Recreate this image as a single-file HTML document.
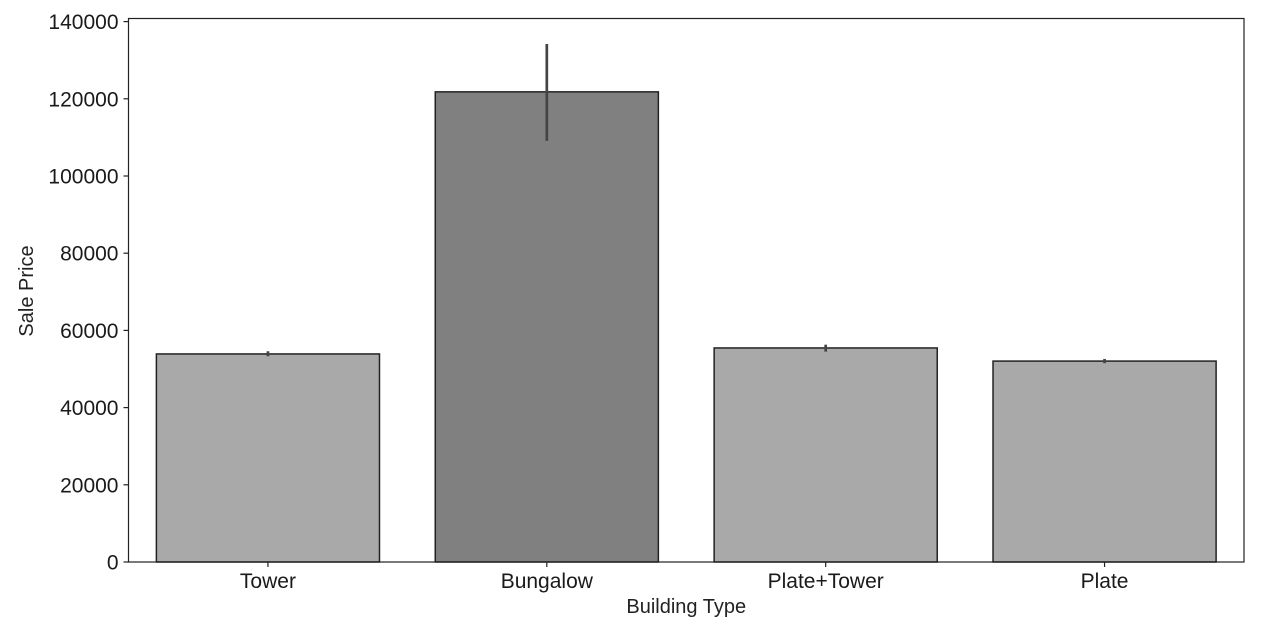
<!DOCTYPE html>
<html><head><meta charset="utf-8"><style>
body{margin:0;background:#fff;}
svg{display:block;font-family:"Liberation Sans","DejaVu Sans",sans-serif;}
</style></head><body>
<svg id="c" width="1264" height="629"></svg>
<script>
const categories=["Tower","Bungalow","Plate+Tower","Plate"];
const values=[53900,121800,55450,52050];
const errLow=[53300,109100,54500,51500];
const errHigh=[54600,134200,56300,52600];
const colors=["#a9a9a9","#808080","#a9a9a9","#a9a9a9"];
const yTicks=[0,20000,40000,60000,80000,100000,120000,140000];
const NS="http://www.w3.org/2000/svg";
const svg=document.getElementById('c');
const L=128.5,R=1244,T=18.5,B=562;
const y0=562,perUnit=540.4/140000;
function yS(v){return y0-v*perUnit;}
const band=(R-L)/categories.length;
function xC(i){return L+band*(i+0.5);}
function mk(t,a,p){const e=document.createElementNS(NS,t);for(const k in a)e.setAttribute(k,a[k]);(p||svg).appendChild(e);return e;}
categories.forEach((c,i)=>{
  const w=band*0.8;
  const b=mk('rect',{x:xC(i)-w/2,y:yS(values[i]),width:w,height:yS(0)-yS(values[i]),fill:colors[i],stroke:'#222',"stroke-width":1.5});
  
  
  const e=mk('line',{x1:xC(i),x2:xC(i),y1:yS(errLow[i]),y2:yS(errHigh[i]),stroke:'#444',"stroke-width":2.7});
  
  
  mk('line',{x1:xC(i),x2:xC(i),y1:B,y2:B+5,stroke:'#222',"stroke-width":1.2});
  const t=mk('text',{x:xC(i),y:588,"text-anchor":"middle","font-size":21,fill:'#1a1a1a'});
  t.textContent=c;
  
  
});
yTicks.forEach(v=>{
  mk('line',{x1:L-5,x2:L,y1:yS(v),y2:yS(v),stroke:'#222',"stroke-width":1.2});
  const t=mk('text',{x:L-10,y:yS(v)+7.5,"text-anchor":"end","font-size":21,fill:'#1a1a1a'});
  t.textContent=v;
  
  
});
const fr=mk('rect',{x:L,y:T,width:R-L,height:B-T,fill:'none',stroke:'#222',"stroke-width":1.2});


const xt=mk('text',{x:(L+R)/2,y:613,"text-anchor":"middle","font-size":20,fill:'#222'});
xt.textContent="Building Type";


const yt=mk('text',{x:33,y:291,"text-anchor":"middle","font-size":20,fill:'#222',transform:'rotate(-90 33 291)'});
yt.textContent="Sale Price";


</script>
</body></html>
